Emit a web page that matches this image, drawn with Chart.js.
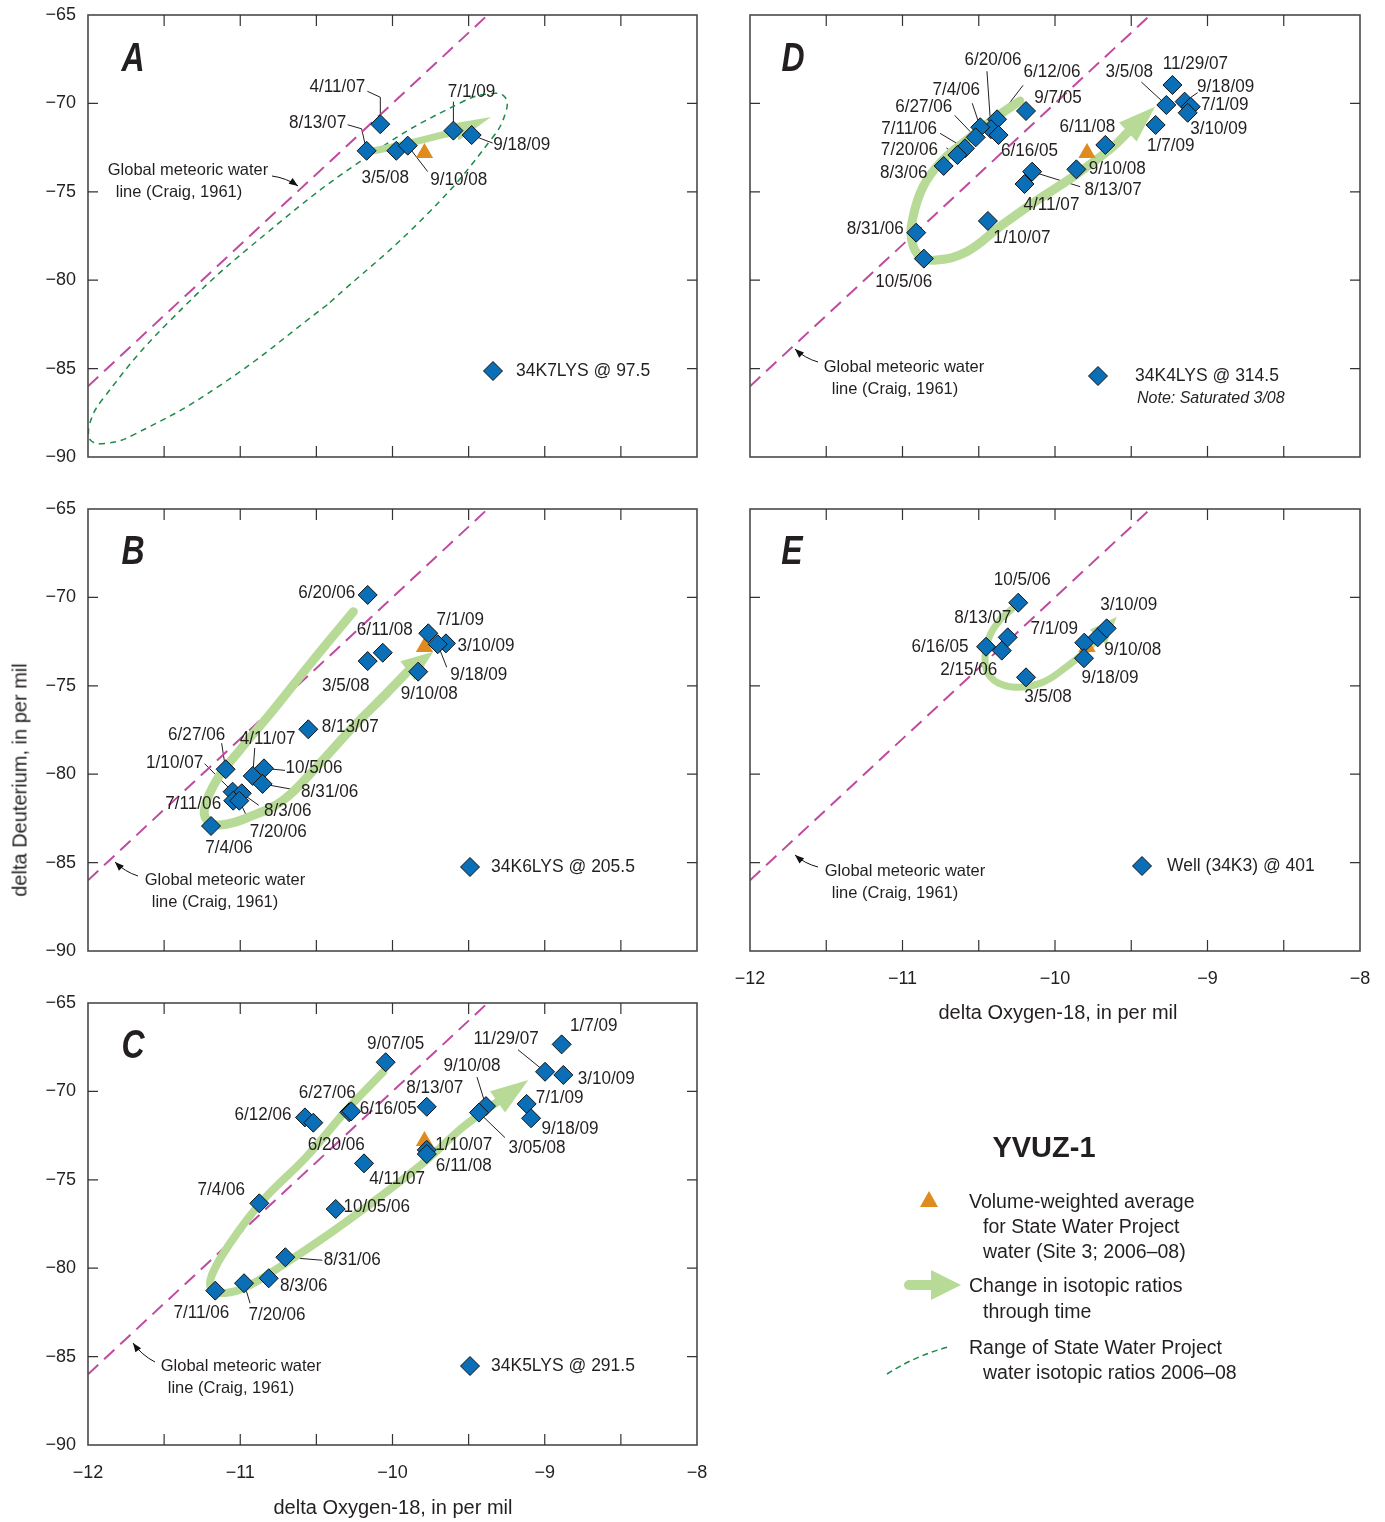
<!DOCTYPE html>
<html><head><meta charset="utf-8">
<script src="https://cdn.jsdelivr.net/npm/chart.js@4.4.1/dist/chart.umd.min.js"></script>
<style>
body{margin:0;background:#fff;}
#wrap{position:relative;width:1385px;height:1522px;overflow:hidden;font-family:'Liberation Sans',Arial,sans-serif;color:#231f20;}
canvas{position:absolute;left:0;top:0;}
.t{position:absolute;white-space:nowrap;transform:translate(0,-50%);font-size:19.5px;line-height:22px;}
.c{position:absolute;white-space:nowrap;transform:translate(-50%,-50%);}
</style></head><body><div id="wrap">
<canvas id="cA" width="1385" height="1522"></canvas>
<canvas id="cD" width="1385" height="1522"></canvas>
<canvas id="cB" width="1385" height="1522"></canvas>
<canvas id="cE" width="1385" height="1522"></canvas>
<canvas id="cC" width="1385" height="1522"></canvas>
<div class="c" style="left:20px;top:780px;font-size:20px;transform:translate(-50%,-50%) rotate(-90deg);">delta Deuterium, in per mil</div>
<div class="c" style="left:393px;top:1507px;font-size:20px;">delta Oxygen-18, in per mil</div>
<div class="c" style="left:1058px;top:1012px;font-size:20px;">delta Oxygen-18, in per mil</div>
<div class="c" style="left:1044px;top:1147px;font-size:29px;font-weight:bold;">YVUZ-1</div>
<svg width="1385" height="1522" style="position:absolute;left:0;top:0;pointer-events:none">
<polygon points="920,1207 938,1207 929,1191" fill="#e08b1f"/>
<line x1="909" y1="1285" x2="936" y2="1285" stroke="#b7db96" stroke-width="10" stroke-linecap="round"/>
<polygon points="931,1270 961,1285 931,1300" fill="#b7db96"/>
<path d="M887,1374 Q915,1356 948,1347" fill="none" stroke="#1d8a4a" stroke-width="1.5" stroke-dasharray="6,4"/>
</svg>
<div class="t" style="left:969px;top:1201px;">Volume-weighted average</div>
<div class="t" style="left:983px;top:1226px;">for State Water Project</div>
<div class="t" style="left:983px;top:1251px;">water (Site 3; 2006–08)</div>
<div class="t" style="left:969px;top:1285px;">Change in isotopic ratios</div>
<div class="t" style="left:983px;top:1311px;">through time</div>
<div class="t" style="left:969px;top:1347px;">Range of State Water Project</div>
<div class="t" style="left:983px;top:1372px;">water isotopic ratios 2006–08</div>
</div>
<script>
// ---------------- DATA ----------------
const xTicksMin = -12, xTicksMax = -8;
const yTicksMin = -90, yTicksMax = -65;

// State Water Project volume-weighted average
const swpO18 = [-9.79];
const swpDD = [-72.8];

// Global meteoric water line (Craig, 1961) end points
const gmwlO18 = [-12, -9.375];
const gmwlDD = [-86, -65];

// Panel A: 34K7LYS @ 97.5
const A_dates = ['4/11/07','8/13/07','3/5/08','9/10/08','7/1/09','9/18/09'];
const A_o18 = [-10.08,-10.17,-9.975,-9.90,-9.60,-9.48];
const A_dD  = [-71.18,-72.68,-72.68,-72.39,-71.54,-71.79];
const A_arrowO18 = [-10.16,-9.885,-9.57,-9.353];
const A_arrowDD  = [-72.75,-72.24,-71.56,-70.77];
// Range of SWP water isotopic ratios (outline)
const A_rangeO18 = [-10.428,-11.135,-11.705,-11.888,-11.986,-11.991,-11.902,-11.475,-10.820,-10.113,-9.543,-9.360,-9.262,-9.257,-9.346,-9.773,-10.428];
const A_rangeDD  = [-81.39,-85.96,-88.76,-89.23,-89.03,-88.17,-86.71,-82.41,-77.29,-72.71,-69.92,-69.45,-69.64,-70.51,-71.97,-76.27,-81.39];

// Panel D: 34K4LYS @ 314.5
const D_dates = ['9/7/05','6/12/06','6/20/06','7/4/06','6/16/05','6/27/06','7/11/06','7/20/06','8/3/06','8/31/06','10/5/06','1/10/07','4/11/07','8/13/07','9/10/08','6/11/08','1/7/09','3/5/08','11/29/07','9/18/09','7/1/09','3/10/09'];
const D_o18 = [-10.19,-10.38,-10.42,-10.49,-10.37,-10.52,-10.59,-10.64,-10.73,-10.91,-10.86,-10.44,-10.20,-10.15,-9.86,-9.67,-9.34,-9.27,-9.23,-9.15,-9.11,-9.13];
const D_dD  = [-70.43,-70.90,-71.46,-71.35,-71.79,-71.92,-72.54,-72.92,-73.54,-77.31,-78.78,-76.65,-74.56,-73.86,-73.73,-72.35,-71.22,-70.09,-68.96,-69.90,-70.19,-70.53];
const D_arrowO18 = [-10.23,-10.382,-10.579,-10.754,-10.866,-10.931,-10.94,-10.885,-10.776,-10.579,-10.361,-10.144,-9.882,-9.62,-9.508,-9.344];
const D_arrowDD  = [-69.86,-70.75,-72.07,-73.37,-74.73,-76.43,-77.73,-78.67,-78.86,-78.39,-76.97,-75.63,-74.15,-72.45,-71.50,-70.19];

// Panel B: 34K6LYS @ 205.5
const B_dates = ['6/20/06','6/11/08','3/5/08','7/1/09','3/10/09','9/18/09','9/10/08','8/13/07','6/27/06','4/11/07','10/5/06','8/31/06','1/10/07','8/3/06','7/11/06','7/20/06','7/4/06'];
const B_o18 = [-10.163,-10.064,-10.163,-9.765,-9.649,-9.703,-9.831,-10.553,-11.096,-10.918,-10.844,-10.853,-11.050,-10.990,-11.046,-11.006,-11.192];
const B_dD  = [-69.86,-73.13,-73.60,-72.03,-72.60,-72.65,-74.20,-77.46,-79.72,-80.10,-79.67,-80.55,-80.99,-81.08,-81.50,-81.50,-82.93];
const B_arrowO18 = [-10.257,-10.52,-10.783,-11.002,-11.155,-11.232,-11.22,-11.133,-10.936,-10.717,-10.498,-10.257,-10.038,-9.885,-9.732];
const B_arrowDD  = [-70.81,-73.54,-76.37,-78.63,-80.33,-81.84,-82.59,-82.87,-82.40,-81.46,-79.58,-77.31,-75.42,-74.05,-73.07];

// Panel E: Well (34K3) @ 401
const E_dates = ['10/5/06','8/13/07','6/16/05','2/15/06','3/5/08','7/1/09','9/18/09','9/10/08','3/10/09'];
const E_o18 = [-10.241,-10.310,-10.452,-10.349,-10.190,-9.808,-9.810,-9.720,-9.661];
const E_dD  = [-70.30,-72.26,-72.79,-73.01,-74.52,-72.56,-73.44,-72.26,-71.75];
const E_arrowO18 = [-10.275,-10.361,-10.426,-10.459,-10.426,-10.295,-10.098,-9.923,-9.792,-9.705,-9.595];
const E_arrowDD  = [-70.60,-71.28,-72.13,-73.35,-74.48,-75.05,-74.86,-73.92,-72.98,-72.13,-71.09];

// Panel C: 34K5LYS @ 291.5
const C_dates = ['9/07/05','6/27/06','6/16/05','6/12/06','6/20/06','8/13/07','4/11/07','1/10/07','6/11/08','10/05/06','7/4/06','8/31/06','8/3/06','7/20/06','7/11/06','9/10/08','3/05/08','11/29/07','1/7/09','3/10/09','7/1/09','9/18/09'];
const C_o18 = [-10.045,-10.284,-10.271,-10.575,-10.520,-9.775,-10.187,-9.775,-9.775,-10.373,-10.875,-10.704,-10.813,-10.975,-11.164,-9.386,-9.432,-8.998,-8.889,-8.878,-9.119,-9.090];
const C_dD  = [-68.35,-71.18,-71.13,-71.47,-71.77,-70.87,-74.07,-73.31,-73.54,-76.65,-76.33,-79.38,-80.57,-80.85,-81.27,-70.83,-71.20,-68.89,-67.34,-69.07,-70.71,-71.52];
const C_arrowO18 = [-10.06,-10.301,-10.564,-10.849,-11.067,-11.186,-11.186,-11.10,-10.958,-10.739,-10.411,-10.082,-9.775,-9.535,-9.294,-9.108];
const C_arrowDD  = [-68.89,-71.05,-73.69,-76.14,-78.59,-80.38,-81.23,-81.40,-81.05,-79.92,-78.03,-75.96,-73.88,-72.00,-70.49,-69.36];

// ---------------- LABEL LAYOUT (pixel offsets from each point) ----------------
const A_labelPos = [[-43,-37,[[-13,-33],[0,-27],[0,0]]],[-49,-28,[[-19,-26],[-5,-22],[0,0]]],[-11,27],[51,34,[[20,26],[0,0]]],[18,-39,[[0,-29],[0,0]]],[50,10,[[21,8],[0,0]]]];
const D_labelPos = [[32,-13],[55,-47,[[26,-34],[0,0]]],[2,-69,[[-4,-58],[0,0]]],[-24,-37,[[-8,-24],[0,0]]],[31,16],[-52,-30,[[-21,-22],[0,0]]],[-56,-19,[[-25,-15],[0,0]]],[-48,-5,[[-11,-7],[0,0]]],[-40,7],[-41,-4],[-20,23],[34,17],[27,21],[81,18,[[48,15],[0,0]]],[41,0],[-18,-18],[15,21],[-37,-33,[[-25,-23],[0,0]]],[23,-21],[41,-15,[[13,-9],[0,0]]],[34,-2],[31,16]];
const B_labelPos = [[-41,-2],[2,-23],[-22,25],[32,-13],[40,3],[41,31,[[9,23],[0,0]]],[11,22],[42,-2],[-29,-34,[[-4,-26],[0,0]]],[15,-37,[[2,-28],[0,0]]],[50,0,[[21,2],[0,0]]],[67,8,[[33,6],[0,0]]],[-58,-29,[[-28,-28],[0,0]]],[46,18,[[17,12],[0,0]]],[-40,3],[39,31,[[9,19],[0,0]]],[18,22]];
const E_labelPos = [[4,-23],[-25,-19],[-46,0],[-33,19],[22,20],[-30,-14],[26,20],[35,13],[22,-23]];
const C_labelPos = [[10,-18],[-22,-19],[37,-2],[-42,-2],[23,22],[8,-19],[33,16],[37,-5],[37,12],[41,-2],[-38,-13],[67,3,[[37,3],[0,0]]],[35,8],[33,32,[[6,20],[0,0]]],[-14,22],[-14,-40,[[-9,-29],[0,0]]],[58,35,[[26,25],[0,0]]],[-39,-33,[[-27,-22],[0,0]]],[32,-18],[43,4],[33,-6],[39,11]];

// ---------------- DRAWING ----------------
const FONT = "'Liberation Sans', Arial, sans-serif";
const TXT = '#231f20';
const BLUE = '#0a6fb7';
const GREEN = '#b7db96';
const MAGENTA = '#bf4a9e';

function drawDiamond(ctx, x, y, r) {
  ctx.beginPath(); ctx.moveTo(x, y - r); ctx.lineTo(x + r, y); ctx.lineTo(x, y + r); ctx.lineTo(x - r, y); ctx.closePath();
  ctx.fillStyle = BLUE; ctx.fill(); ctx.lineWidth = 1; ctx.strokeStyle = '#111'; ctx.stroke();
}

const deco = {
  id: 'deco',
  beforeDatasetsDraw(chart) {
    const p = chart.options.plugins.deco, ctx = chart.ctx;
    const xs = chart.scales.x, ys = chart.scales.y;
    ctx.save(); ctx.strokeStyle = TXT; ctx.lineWidth = 1;
    p.labelPos.forEach((lp, i) => {
      if (!lp[2]) return;
      const px = xs.getPixelForValue(p.x[i]), py = ys.getPixelForValue(p.y[i]);
      ctx.beginPath();
      lp[2].forEach((o, k) => { const X = px + o[0], Y = py + o[1]; if (k) ctx.lineTo(X, Y); else ctx.moveTo(X, Y); });
      ctx.stroke();
    });
    ctx.restore();
  },
  afterDatasetDraw(chart, args) {
    const ds = chart.data.datasets[args.index];
    if (!ds.arrowTip) return;
    const ctx = chart.ctx, pts = args.meta.data, last = pts[pts.length - 1];
    const tx = chart.scales.x.getPixelForValue(ds.arrowTip.x), ty = chart.scales.y.getPixelForValue(ds.arrowTip.y);
    const dx = tx - last.x, dy = ty - last.y, len = Math.hypot(dx, dy), ux = dx / len, uy = dy / len;
    const hw = ds.headHalf, bx = last.x - ux * 3, by = last.y - uy * 3;
    ctx.save(); ctx.fillStyle = GREEN; ctx.beginPath();
    ctx.moveTo(tx, ty); ctx.lineTo(bx - uy * hw, by + ux * hw); ctx.lineTo(bx + uy * hw, by - ux * hw); ctx.closePath(); ctx.fill();
    ctx.restore();
  },
  afterDraw(chart) {
    const p = chart.options.plugins.deco, ctx = chart.ctx, a = chart.chartArea;
    const xs = chart.scales.x, ys = chart.scales.y;
    ctx.save();
    // frame
    ctx.strokeStyle = '#4a4a4a'; ctx.lineWidth = 1.6;
    ctx.strokeRect(a.left, a.top, a.right - a.left, a.bottom - a.top);
    // inward ticks
    ctx.lineWidth = 1.2; ctx.strokeStyle = '#333';
    xs.ticks.forEach(t => {
      if (t.value <= xTicksMin || t.value >= xTicksMax) return;
      const x = xs.getPixelForValue(t.value);
      ctx.beginPath(); ctx.moveTo(x, a.bottom); ctx.lineTo(x, a.bottom - 11); ctx.moveTo(x, a.top); ctx.lineTo(x, a.top + 11); ctx.stroke();
    });
    ys.ticks.forEach(t => {
      if (t.value <= yTicksMin || t.value >= yTicksMax) return;
      const y = ys.getPixelForValue(t.value);
      ctx.beginPath(); ctx.moveTo(a.left, y); ctx.lineTo(a.left + 10, y); ctx.moveTo(a.right, y); ctx.lineTo(a.right - 10, y); ctx.stroke();
    });
    // date labels
    ctx.fillStyle = TXT; ctx.font = '18px ' + FONT; ctx.textAlign = 'center'; ctx.textBaseline = 'middle';
    p.labelPos.forEach((lp, i) => {
      const px = xs.getPixelForValue(p.x[i]), py = ys.getPixelForValue(p.y[i]);
      ctx.save(); ctx.translate(px + lp[0], py + lp[1]); ctx.scale(0.95, 1);
      ctx.fillText(p.dates[i], 0, 0); ctx.restore();
    });
    // panel letter
    ctx.save();
    ctx.font = "italic bold 40px " + FONT;
    ctx.translate(a.left + p.letterPos[0], a.top + p.letterPos[1]); ctx.scale(0.8, 1);
    ctx.fillText(p.letter, 0, 0);
    ctx.restore();
    // well legend
    drawDiamond(ctx, a.left + p.legPos[0], a.top + p.legPos[1], 9.5);
    ctx.fillStyle = TXT; ctx.textAlign = 'left'; ctx.font = '17.5px ' + FONT;
    ctx.fillText(p.name, a.left + p.legPos[0] + p.legGap, a.top + p.legPos[1]);
    if (p.note) {
      ctx.font = 'italic 16px ' + FONT;
      ctx.fillText(p.note, a.left + p.legPos[0] + p.legGap + 2, a.top + p.legPos[1] + 23);
    }
    // GMWL note
    const g = p.gmwl;
    ctx.font = '16.5px ' + FONT; ctx.textAlign = 'center';
    ctx.fillText('Global meteoric water', a.left + g[0], a.top + g[1]);
    ctx.fillText('line (Craig, 1961)', a.left + g[2], a.top + g[3]);
    const x1 = a.left + g[4], y1 = a.top + g[5], x2 = a.left + g[6], y2 = a.top + g[7];
    ctx.strokeStyle = '#111'; ctx.lineWidth = 1;
    ctx.beginPath(); ctx.moveTo(x1, y1);
    const mx = (x1 + x2) / 2, my = (y1 + y2) / 2;
    ctx.quadraticCurveTo(mx + (y2 - y1) * 0.12, my - (x2 - x1) * 0.12, x2, y2); ctx.stroke();
    const ang = Math.atan2(y2 - my + (x2 - x1) * 0.12, x2 - mx - (y2 - y1) * 0.12);
    ctx.fillStyle = '#111'; ctx.beginPath();
    ctx.moveTo(x2, y2);
    ctx.lineTo(x2 - 9 * Math.cos(ang) + 3.5 * Math.sin(ang), y2 - 9 * Math.sin(ang) - 3.5 * Math.cos(ang));
    ctx.lineTo(x2 - 9 * Math.cos(ang) - 3.5 * Math.sin(ang), y2 - 9 * Math.sin(ang) + 3.5 * Math.cos(ang));
    ctx.closePath(); ctx.fill();
    ctx.restore();
  }
};

function pts(xa, ya) { return xa.map((v, i) => ({ x: v, y: ya[i] })); }

function makePanel(id, area, p) {
  const [L, T, R, B] = area;
  const YW = 60, XH = 40;
  const datasets = [
    { data: pts(p.x, p.y), pointStyle: 'rectRot', pointRadius: 9.5, backgroundColor: BLUE, borderColor: '#111', borderWidth: 1, showLine: false, order: 0 },
    { data: pts(swpO18, swpDD), pointStyle: 'triangle', pointRadius: 10, backgroundColor: '#e08b1f', borderWidth: 0, showLine: false, order: 1 },
    { data: pts(p.ax.slice(0, -1), p.ay.slice(0, -1)), showLine: true, borderColor: GREEN, borderWidth: p.arrowW, pointRadius: 0, tension: 0.4, borderCapStyle: 'round', borderJoinStyle: 'round', order: 2,
      arrowTip: { x: p.ax[p.ax.length - 1], y: p.ay[p.ay.length - 1] }, headHalf: p.headHalf },
    { data: pts(gmwlO18, gmwlDD), showLine: true, borderColor: MAGENTA, borderWidth: 2, borderDash: [14, 8], pointRadius: 0, order: 4 }
  ];
  if (p.rx) datasets.push({ data: pts(p.rx, p.ry), showLine: true, borderColor: '#1d8a4a', borderWidth: 1.5, borderDash: [6, 5], pointRadius: 0, tension: 0.45, order: 3 });
  const tickFont = { family: FONT, size: 18 };
  new Chart(document.getElementById(id), {
    type: 'scatter',
    data: { datasets },
    options: {
      responsive: false, animation: false, devicePixelRatio: 1,
      events: [],
      layout: { padding: { left: L - YW, top: T, right: 1385 - R, bottom: 1522 - B - XH } },
      plugins: { legend: { display: false }, tooltip: { enabled: false }, deco: p },
      scales: {
        x: { type: 'linear', min: xTicksMin, max: xTicksMax,
          ticks: { stepSize: 0.5, display: p.showX, autoSkip: false, maxRotation: 0, padding: 17, color: TXT, font: tickFont,
            callback: v => Number.isInteger(v) ? (v < 0 ? '\u2212' : '') + Math.abs(v) : '' },
          grid: { display: false, drawTicks: false }, border: { display: false },
          afterFit: s => { s.height = XH; s.paddingLeft = 0; s.paddingRight = 0; } },
        y: { type: 'linear', min: yTicksMin, max: yTicksMax,
          ticks: { stepSize: 5, display: p.showY, padding: 12, color: TXT, font: tickFont,
            callback: v => (v < 0 ? '\u2212' : '') + Math.abs(v) },
          grid: { display: false, drawTicks: false }, border: { display: false },
          afterFit: s => { s.width = YW; s.paddingTop = 0; s.paddingBottom = 0; } }
      }
    },
    plugins: [deco]
  });
}

makePanel('cA', [88, 15, 697, 457], { x: A_o18, y: A_dD, dates: A_dates, labelPos: A_labelPos, ax: A_arrowO18, ay: A_arrowDD, arrowW: 7, headHalf: 9,
  rx: A_rangeO18, ry: A_rangeDD, showX: false, showY: true, letter: 'A', letterPos: [45, 45], name: '34K7LYS @ 97.5', legPos: [405, 356], legGap: 23,
  gmwl: [100, 155, 91, 177, 184, 161, 210, 171] });
makePanel('cD', [750, 15, 1360, 457], { x: D_o18, y: D_dD, dates: D_dates, labelPos: D_labelPos, ax: D_arrowO18, ay: D_arrowDD, arrowW: 9, headHalf: 13,
  showX: false, showY: false, letter: 'D', letterPos: [43, 45], name: '34K4LYS @ 314.5', note: 'Note: Saturated 3/08', legPos: [348, 361], legGap: 37,
  gmwl: [154, 352, 145, 374, 68, 347, 45, 334] });
makePanel('cB', [88, 509, 697, 951], { x: B_o18, y: B_dD, dates: B_dates, labelPos: B_labelPos, ax: B_arrowO18, ay: B_arrowDD, arrowW: 9, headHalf: 12,
  showX: false, showY: true, letter: 'B', letterPos: [45, 44], name: '34K6LYS @ 205.5', legPos: [382, 358], legGap: 21,
  gmwl: [137, 371, 127, 393, 50, 367, 27, 353] });
makePanel('cE', [750, 509, 1360, 951], { x: E_o18, y: E_dD, dates: E_dates, labelPos: E_labelPos, ax: E_arrowO18, ay: E_arrowDD, arrowW: 7, headHalf: 11,
  showX: true, showY: false, letter: 'E', letterPos: [42, 44], name: 'Well (34K3) @ 401', legPos: [392, 357], legGap: 25,
  gmwl: [155, 362, 145, 384, 68, 358, 45, 346] });
makePanel('cC', [88, 1003, 697, 1445], { x: C_o18, y: C_dD, dates: C_dates, labelPos: C_labelPos, ax: C_arrowO18, ay: C_arrowDD, arrowW: 8, headHalf: 13,
  showX: true, showY: true, letter: 'C', letterPos: [45, 44], name: '34K5LYS @ 291.5', legPos: [382, 363], legGap: 21,
  gmwl: [153, 363, 143, 385, 67, 359, 45, 340] });
</script>
</body></html>
